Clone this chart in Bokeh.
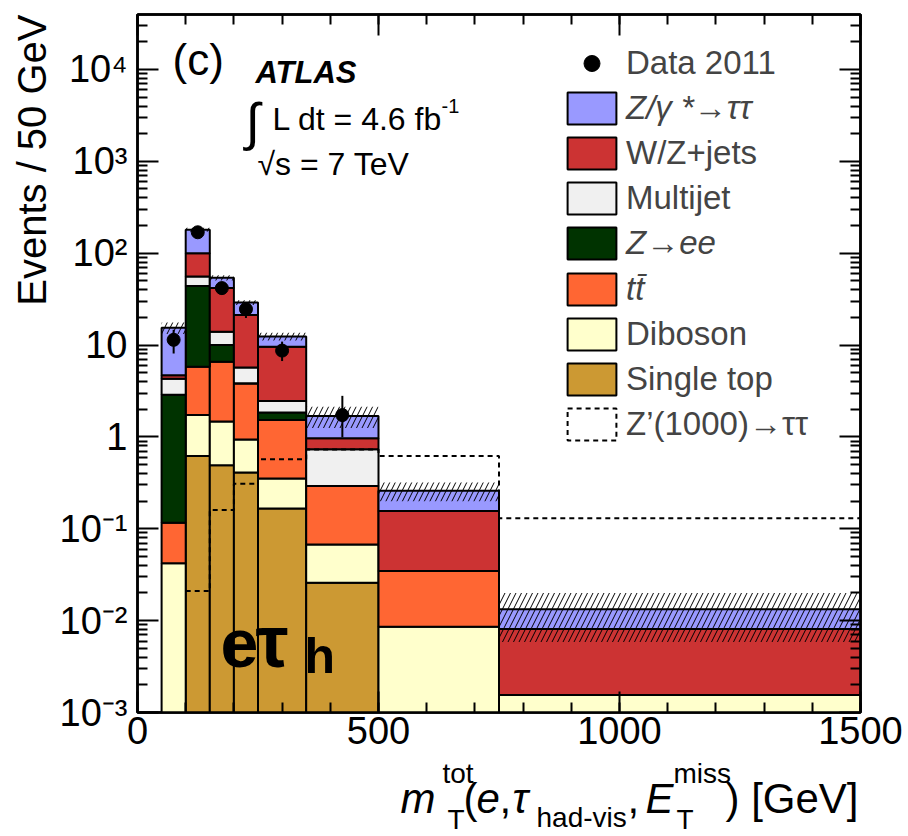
from bokeh.plotting import figure
from bokeh.layouts import column
from bokeh.models import (Range1d, Legend, LegendItem, LinearAxis, LogAxis, Title,
                          FixedTicker, SingleIntervalTicker, CustomJSTickFormatter)
from bokeh.core.properties import value
from bokeh.embed import file_html
from bokeh.resources import INLINE

# ---------------- data ----------------
edges = [50, 100, 150, 200, 250, 350, 500, 750, 1500]
single_top = [0.0, 0.62, 0.49, 0.41, 0.166, 0.0257, 0.0, 0.0]
diboson = [0.042, 1.11, 0.98, 0.53, 0.187, 0.0418, 0.0085, 0.00145]
ttbar = [0.074, 4.07, 5.13, 2.87, 1.177, 0.2245, 0.026, 0.0]
z_ee = [2.754, 38.2, 3.4, 0.03, 0.32, 0.0, 0.0, 0.0]
multijet = [1.43, 11.8, 4.0, 1.86, 0.61, 0.441, 0.0, 0.0]
wz_jets = [0.4, 44.2, 27.7, 15.6, 7.14, 0.233, 0.1215, 0.00658]
ztautau = [10.7, 80.0, 12.3, 7.7, 2.8, 0.724, 0.103, 0.00517]
band_lo = [13.2, 171.0, 50.5, 27.3, 11.2, 1.25, 0.2, 0.00585]
band_hi = [17.6, 189.0, 57.5, 30.7, 13.6, 2.13, 0.32, 0.02]
zprime = [0.0, 0.021, 0.16, 0.31, 0.57, 0.73, 0.62, 0.13]
data_x = [75, 125, 175, 225, 300, 425]
data_y = [11.4, 169.0, 41.7, 24.6, 8.7, 1.73]
data_err_lo = [3.3, 13.0, 6.5, 4.9, 2.0, 0.74]
data_err_hi = [3.3, 13.0, 6.5, 4.9, 2.2, 1.07]
x_ticks = [0, 500, 1000, 1500]
y_ticks = [1e-3, 1e-2, 1e-1, 1, 10, 100, 1e3, 1e4]

legend_labels = ["Data 2011", "Z/γ *→ττ", "W/Z+jets", "Multijet", "Z→ee", "tt̄",
                 "Diboson", "Single top", "Z’(1000)→ττ"]

colors = {
    "st": "#CC9933", "dib": "#FFFFCC", "tt": "#FF6633", "zee": "#003300",
    "mj": "#F0F0F0", "wz": "#CC3333", "ztt": "#9999FF",
}

FONT = "Liberation Sans"

# frame geometry (canvas pixels)
FL, FR, FT, FB = 137, 860, 14, 712
H1 = 759          # height of main figure
DEC = 91.86
BASE_K = 0.355    # text anchor sits at cap-centre: shift to put baseline where wanted

def X(px):
    return (px - FL) * 1500.0 / (FR - FL)

def Y(py):
    return 10 ** ((FB - py) / DEC - 3)

p = figure(width=908, height=H1, x_range=Range1d(0, 1500), y_range=Range1d(1e-3, Y(FT)),
           y_axis_type="log", output_backend="svg", toolbar_location=None,
           min_border_left=FL, min_border_right=908 - FR, min_border_top=FT,
           min_border_bottom=H1 - FB)
p.xgrid.visible = False
p.ygrid.visible = False
p.outline_line_color = "black"
p.outline_line_width = 2.5
p.background_fill_color = "white"
p.border_fill_color = "white"

# ---------------- stack ----------------
base = 1e-4
cum = [base] * 8
stack = [("st", single_top), ("dib", diboson), ("tt", ttbar), ("zee", z_ee),
         ("mj", multijet), ("wz", wz_jets), ("ztt", ztautau)]
rend = {}
for key, vals in stack:
    L, R, B, T = [], [], [], []
    for i, v in enumerate(vals):
        if v > 0:
            L.append(edges[i]); R.append(edges[i + 1]); B.append(cum[i]); T.append(cum[i] + v)
        cum[i] += v
    rend[key] = p.quad(left=L, right=R, bottom=B, top=T, fill_color=colors[key],
                       line_color="black", line_width=2)

# uncertainty band
p.quad(left=edges[:-1], right=edges[1:], bottom=band_lo, top=band_hi,
       fill_color=None, line_color=None, hatch_pattern="/", hatch_color="black",
       hatch_weight=1, hatch_scale=11)

# signal (step outline) + hidden box renderer used for the legend swatch
idx = [i for i in range(8) if zprime[i] > 0]
sx = [edges[i] for i in idx] + [edges[-1]]
sy = [zprime[i] for i in idx]
sy = sy + [sy[-1]]
p.step(x=sx, y=sy, mode="after", line_color="black", line_width=2, line_dash="5 4")
sig_box = p.quad(left=[edges[i] for i in idx], right=[edges[i + 1] for i in idx],
                 bottom=[base] * len(idx), top=[zprime[i] for i in idx],
                 fill_color=None, line_color="black", line_width=2, line_dash="5 4",
                 visible=False)

# data
p.segment(x0=data_x, x1=data_x, y0=[y - e for y, e in zip(data_y, data_err_lo)],
          y1=[y + e for y, e in zip(data_y, data_err_hi)], line_color="black", line_width=2)
rdata = p.scatter(x=data_x, y=data_y, size=13, marker="circle", fill_color="black",
                  line_color="black")

# ---------------- axes ----------------
xa = p.xaxis[0]
xa.ticker = SingleIntervalTicker(interval=500, num_minor_ticks=5)
ya = p.yaxis[0]
minor = [k * 10 ** e for e in range(-3, 5) for k in range(2, 10)]
ya.ticker = FixedTicker(ticks=y_ticks, minor_ticks=minor)
ya.formatter = CustomJSTickFormatter(code="""
const e = Math.round(Math.log10(tick));
if (e === 0) return "1";
if (e === 1) return "10";
const sup = {"-": "\\u207B", "0": "\\u2070", "1": "\\u00B9", "2": "\\u00B2", "3": "\\u00B3", "4": "\\u2074"};
return "10" + String(e).split("").map(c => sup[c]).join("");
""")
for ax in (xa, ya):
    ax.major_tick_in = 21
    ax.major_tick_out = 0
    ax.minor_tick_in = 10
    ax.minor_tick_out = 0
    ax.major_tick_line_width = 2
    ax.minor_tick_line_width = 2
    ax.axis_line_width = 2.5
    ax.major_label_text_font = FONT
    ax.major_label_text_font_size = "38px"
    ax.major_label_text_color = "black"
xa.major_label_standoff = 4
ya.major_label_standoff = 10

empty = CustomJSTickFormatter(code="return '';")
top_ax = LinearAxis(ticker=SingleIntervalTicker(interval=500, num_minor_ticks=5), formatter=empty)
right_ax = LogAxis(ticker=FixedTicker(ticks=y_ticks, minor_ticks=minor), formatter=empty)
for ax in (top_ax, right_ax):
    ax.major_tick_in = 21
    ax.major_tick_out = 0
    ax.minor_tick_in = 10
    ax.minor_tick_out = 0
    ax.major_tick_line_width = 2
    ax.minor_tick_line_width = 2
    ax.axis_line_width = 2.5
    ax.major_label_standoff = 0
    ax.major_label_text_font_size = "1px"
p.add_layout(top_ax, "above")
p.add_layout(right_ax, "right")

# y-axis title (right-aligned to the top of the axis, as in ROOT)
p.add_layout(Title(text="Events / 50 GeV", align="right", text_font=FONT,
                   text_font_size="40px", text_font_style="normal", standoff=6,
                   text_color="black"), "left")

# ---------------- legend ----------------
row_rends = [rdata, rend["ztt"], rend["wz"], rend["mj"], rend["zee"], rend["tt"],
             rend["dib"], rend["st"], sig_box]
row_style = ["normal", "italic", "normal", "normal", "italic", "italic",
             "normal", "normal", "normal"]
for i, (lab, r, st) in enumerate(zip(legend_labels, row_rends, row_style)):
    yc = 63 + 45.1 * i
    leg = Legend(items=[LegendItem(label=lab, renderers=[r])],
                 location=(561 - FL, FB - (yc + 20)),
                 padding=0, margin=0, spacing=0, glyph_width=61, glyph_height=40,
                 label_height=40, label_standoff=4, label_text_font=FONT,
                 label_text_font_size="33px", label_text_font_style=st,
                 border_line_alpha=0, background_fill_alpha=0,
                 inactive_fill_alpha=0)
    p.add_layout(leg)

# ---------------- texts inside the frame ----------------
def txt(fig, x, y, t, size, style="normal"):
    fig.text(x=[x], y=[y], text=[t], text_font=value(FONT), text_font_size=value(f"{size}px"),
             text_font_style=style, text_align="left", text_baseline="middle",
             text_color="black")

def pt(px, py, t, size, style="normal"):
    # py is the wanted baseline (canvas pixels)
    txt(p, X(px), Y(py - BASE_K * size), t, size, style)

pt(172, 75, "(c)", 44)
pt(255, 83, "ATLAS", 31, "bold italic")
pt(245, 140, "∫", 52)
pt(272, 130, "L dt = 4.6 fb", 32)
pt(441, 113, "-1", 20)
pt(257, 175, "√s = 7 TeV", 32)
pt(220, 667, "e", 68, "bold")
pt(255, 667, "τ", 74, "bold")
pt(304, 673, "h", 50, "bold")

# ---------------- x-axis title (strip under the plot, frames aligned) ----------------
H2 = 836 - H1
p2 = figure(width=908, height=H2, x_range=Range1d(FL, FR), y_range=Range1d(H2, 0),
            output_backend="svg", toolbar_location=None,
            x_axis_location=None, y_axis_location=None,
            min_border_left=FL, min_border_right=908 - FR,
            min_border_top=0, min_border_bottom=0)
p2.xgrid.visible = False
p2.ygrid.visible = False
p2.outline_line_color = None
p2.background_fill_color = "white"
p2.border_fill_color = "white"

def xt(px, py, t, size, style="normal"):
    txt(p2, px, py - BASE_K * size - H1, t, size, style)

xt(400, 813, "m", 42, "italic")
xt(442, 783, "tot", 28)
xt(447, 829, "T", 28)
xt(463, 813, "(", 42)
xt(476, 813, "e", 42, "italic")
xt(499, 813, ",", 42)
xt(512, 813, "τ", 42, "italic")
xt(536, 827, "had-vis", 28)
xt(627, 813, ",", 42)
xt(645, 813, "E", 42, "italic")
xt(673, 783, "miss", 28)
xt(676, 829, "T", 28)
xt(725, 813, ") [GeV]", 42)

layout = column(p, p2, spacing=0)
open("out.html", "w").write(file_html(layout, INLINE))
